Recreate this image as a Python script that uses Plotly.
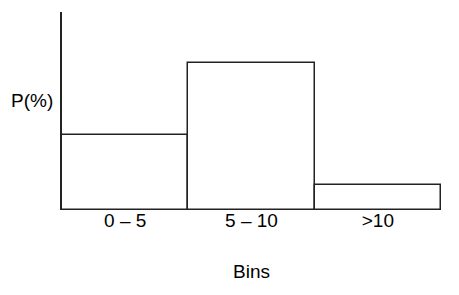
import plotly.graph_objects as go

categories = ["0 – 5", "5 – 10", ">10"]
values = [3.08, 6.0, 1.02]
y_label = "P(%)"
x_label = "Bins"

fig = go.Figure()
fig.add_trace(go.Bar(
    x=categories, y=values,
    marker=dict(color="white", line=dict(color="#222222", width=1.5)),
    hoverinfo="skip",
))

FONT = "Liberation Sans, Arial, sans-serif"
fig.update_layout(
    width=459, height=295,
    margin=dict(l=62, r=18, t=12, b=85),
    paper_bgcolor="white", plot_bgcolor="white",
    bargap=0,
    showlegend=False,
    font=dict(family=FONT, size=19, color="black"),
    xaxis=dict(
        showline=False,
        showgrid=False, zeroline=False, ticks="",
        tickfont=dict(size=19), ticklabelstandoff=-3,
        title=dict(text=x_label, font=dict(size=19), standoff=34),
    ),
    yaxis=dict(
        range=[0, 8.08], showline=True, linecolor="#222222", linewidth=1.5,
        showgrid=False, zeroline=False, showticklabels=False, ticks="",
    ),
    annotations=[dict(
        text=y_label, xref="paper", yref="paper",
        x=-0.08, y=0.555, xanchor="center", yanchor="middle",
        showarrow=False, font=dict(size=19, family=FONT),
    )],
)

fig.write_html("out.html")
